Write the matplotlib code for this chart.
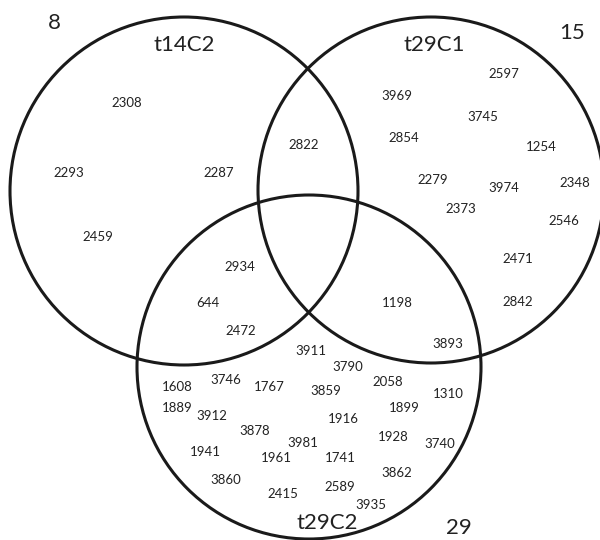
import matplotlib.pyplot as plt
from matplotlib.patches import Circle

plt.rcParams["font.family"] = ["Lato", "DejaVu Sans"]

# region members (gene ids), one list per Venn region
only_t14c2 = ["2308", "2293", "2287", "2459"]
t14c2_t29c1 = ["2822"]
t14c2_t29c2 = ["2934", "644", "2472"]
only_t29c1 = ["2597", "3969", "3745", "2854", "1254", "2279", "3974",
              "2348", "2373", "2546", "2471", "2842"]
t29c1_t29c2 = ["1198", "3893"]
only_t29c2 = ["3911", "3790", "1608", "3746", "1767", "3859", "2058", "1310",
              "1889", "3912", "1899", "1916", "3878", "1928", "3740", "3981",
              "1941", "1961", "1741", "3862", "3860", "2589", "2415", "3935"]

set_names = ["t14C2", "t29C1", "t29C2"]
set_members = [
    only_t14c2 + t14c2_t29c1 + t14c2_t29c2,
    only_t29c1 + t14c2_t29c1 + t29c1_t29c2,
    only_t29c2 + t14c2_t29c2 + t29c1_t29c2,
]

# layout (pixel space of the 600x540 canvas)
circle_layout = [((184, 191), 174), ((431, 190), 173), ((309, 367), 172)]
name_pos = [(184, 45), (434, 45), (327, 523)]
count_pos = [(54, 23), (572, 33), (459, 528)]
member_pos = {
    "2308": (127, 103), "2293": (69, 173), "2287": (219, 173), "2459": (98, 237),
    "2822": (304, 145),
    "2934": (240, 267), "644": (208, 303), "2472": (241, 331),
    "2597": (504, 74), "3969": (397, 96), "3745": (483, 117), "2854": (404, 138),
    "1254": (541, 147), "2279": (433, 180), "3974": (504, 188), "2348": (575, 183),
    "2373": (461, 209), "2546": (564, 221), "2471": (518, 259), "2842": (518, 302),
    "1198": (397, 303), "3893": (448, 344),
    "3911": (311, 351), "3790": (348, 367), "1608": (177, 387), "3746": (226, 380),
    "1767": (269, 387), "3859": (326, 391), "2058": (388, 382), "1310": (448, 394),
    "1889": (177, 408), "3912": (212, 416), "1899": (404, 408), "1916": (343, 419),
    "3878": (255, 431), "1928": (393, 437), "3740": (440, 444), "3981": (303, 443),
    "1941": (205, 452), "1961": (276, 458), "1741": (340, 458), "3862": (397, 473),
    "3860": (226, 480), "2589": (340, 487), "2415": (283, 494), "3935": (371, 505),
}

fig = plt.figure(figsize=(6.0, 5.4), dpi=100)
ax = fig.add_axes([0, 0, 1, 1])
ax.set_xlim(0, 600)
ax.set_ylim(540, 0)
ax.axis("off")

for (center, radius) in circle_layout:
    ax.add_patch(Circle(center, radius, fill=False, edgecolor="#1a1a1a", linewidth=2.2))

ink = "#222222"
for name, members, npos, cpos in zip(set_names, set_members, name_pos, count_pos):
    ax.text(*npos, name, fontsize=16, ha="center", va="center", color=ink)
    ax.text(*cpos, str(len(members)), fontsize=16, ha="center", va="center", color=ink)

for region in (only_t14c2, t14c2_t29c1, t14c2_t29c2, only_t29c1, t29c1_t29c2, only_t29c2):
    for gene in region:
        ax.text(*member_pos[gene], gene, fontsize=9.5, ha="center", va="center", color=ink)

fig.savefig("out.png", dpi=100)
